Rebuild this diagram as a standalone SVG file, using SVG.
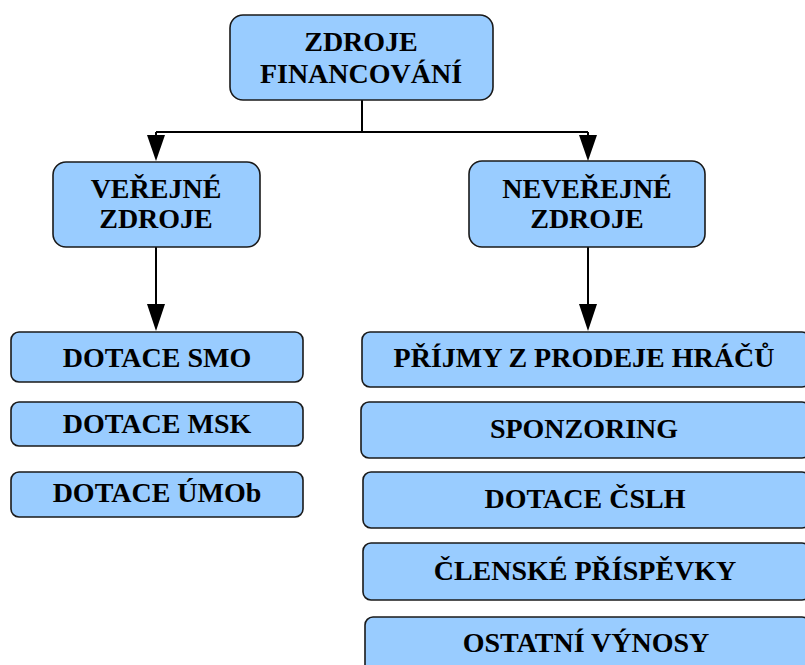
<svg xmlns="http://www.w3.org/2000/svg" width="805" height="665" viewBox="0 0 805 665">
<style>
.box{fill:#99CCFF;stroke:#1a1a1a;stroke-width:1.6}
.c{fill:none;stroke:#000;stroke-width:2}
</style>
<rect width="805" height="665" fill="#fff"/>
<g id="connectors">
<path class="c" d="M362,100 V132"/>
<path class="c" d="M156,132 H588"/>
<path class="c" d="M156,132 V140"/>
<path d="M147,135 L165,135 L156,161 Z"/>
<path class="c" d="M588,132 V140"/>
<path d="M579,135 L597,135 L588,161 Z"/>
<path class="c" d="M156,247 V310"/>
<path d="M147,304 L165,304 L156,331 Z"/>
<path class="c" d="M588,247 V310"/>
<path d="M579,304 L597,304 L588,331 Z"/>
</g>
<g id="nodes" font-family="Liberation Serif" font-weight="bold" font-size="28" fill="#000" text-anchor="middle">
<g id="n-root"><rect class="box" x="230" y="15" width="263" height="85" rx="13"/><text x="361" y="51">ZDROJE</text><text x="361" y="83">FINANCOVÁNÍ</text></g>
<g id="n-verejne"><rect class="box" x="53" y="162" width="207" height="85" rx="13"/><text x="156" y="198">VEŘEJNÉ</text><text x="156" y="228">ZDROJE</text></g>
<g id="n-neverejne"><rect class="box" x="469" y="161" width="236" height="86" rx="13"/><text x="587" y="198">NEVEŘEJNÉ</text><text x="587" y="228">ZDROJE</text></g>
<g id="n-smo"><rect class="box" x="11" y="332" width="292" height="50" rx="8"/><text x="157" y="367">DOTACE SMO</text></g>
<g id="n-msk"><rect class="box" x="11" y="402" width="292" height="44" rx="8"/><text x="157" y="433">DOTACE MSK</text></g>
<g id="n-umob"><rect class="box" x="11" y="472" width="292" height="45" rx="8"/><text x="157" y="502">DOTACE ÚMOb</text></g>
<g id="n-prijmy"><rect class="box" x="362" y="332" width="448" height="55" rx="8"/><text x="584" y="367">PŘÍJMY Z PRODEJE HRÁČŮ</text></g>
<g id="n-sponzoring"><rect class="box" x="361" y="402" width="449" height="56" rx="8"/><text x="584" y="438">SPONZORING</text></g>
<g id="n-cslh"><rect class="box" x="363" y="472" width="447" height="56" rx="8"/><text x="585" y="508">DOTACE ČSLH</text></g>
<g id="n-clenske"><rect class="box" x="363" y="543" width="447" height="57" rx="8"/><text x="585" y="580">ČLENSKÉ PŘÍSPĚVKY</text></g>
<g id="n-ostatni"><rect class="box" x="365" y="617" width="445" height="60" rx="8"/><text x="586" y="652">OSTATNÍ VÝNOSY</text></g>
</g>
</svg>
